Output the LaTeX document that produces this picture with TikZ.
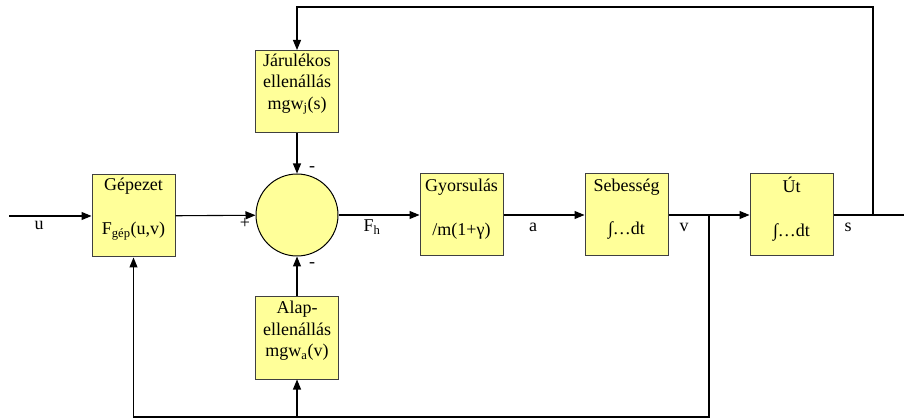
\documentclass[tikz,border=0pt]{standalone}
\usepackage{fontspec}
\setmainfont{Liberation Serif}
\usetikzlibrary{arrows.meta}
\definecolor{blkfill}{RGB}{255,255,153}
\tikzset{
  blk/.style={draw=black!75, fill=blkfill, line width=1pt, minimum width=83pt, minimum height=82pt, inner sep=0pt},
  sumnode/.style={circle, draw, fill=blkfill, line width=1pt, minimum size=82pt, inner sep=0pt},
  txt/.style={inner sep=0pt, align=center, font=\fontsize{18}{21.5}\selectfont},
  arr/.style={-{Triangle[length=10pt,width=8pt]}},
}
\begin{document}
\begin{tikzpicture}[x=1pt,y=-1pt,line width=1.1pt]
\useasboundingbox (0,0) rectangle (904,419);
% blocks
\node[blk] (gep) at (133.5,216) {};
\node[blk] (jar) at (297,91.5) {};
\node[blk] (alap) at (297,338) {};
\node[blk] (gyo) at (461.5,215) {};
\node[blk] (seb) at (626.5,215) {};
\node[blk] (ut) at (791.5,215) {};
\node[sumnode] (sum) at (297,215) {};
% texts
\node[txt] (gept) at (133.5,209) {Gépezet\\[22pt]F\textsubscript{gép}(u,v)};
\node[txt] (jart) at (297,84) {Járulékos\\ellenállás\\mgw\textsubscript{j}(s)};
\node[txt] (alapt) at (297,331) {Alap-\\ellenállás\\mgw\textsubscript{a}(v)};
\node[txt] (gyot) at (461.5,209) {Gyorsulás\\[22pt]/m(1+γ)};
\node[txt] (sebt) at (626.5,209) {Sebesség\\[22pt]∫…dt};
\node[txt] (utt) at (791.5,209) {Út\\[22pt]∫…dt};
\node[txt] (lu) at (39,225) {u};
\node[txt] (lfh) at (372,227) {F\textsubscript{h}};
\node[txt] (la) at (533,227) {a};
\node[txt] (lv) at (684,227) {v};
\node[txt] (ls) at (848,227) {s};
\node[txt] (lplus) at (245,223) {+};
\node[txt] (lmt) at (312,169) {-};
\node[txt] (lmb) at (312,265) {-};
% connectors
\coordinate (in) at (9,216);
\coordinate (out) at (904,215);
\coordinate (bv) at (709,215);
\coordinate (bl) at (709,417);
\coordinate (ba) at (297,417);
\coordinate (bs) at (873,215);
\coordinate (tr) at (873,7);
\draw[arr] (in) -- (gep);
\draw[arr] (gep) -- (sum);
\draw[arr] (sum) -- (gyo);
\draw[arr] (gyo) -- (seb);
\draw[arr] (seb) -- (ut);
\draw (ut) -- (out);
\draw[arr] (bs) -- (tr) -| (jar);
\draw[arr] (jar) -- (sum);
\draw[arr] (alap) -- (sum);
\draw[arr] (bv) -- (bl) -| (gep);
\draw[arr] (ba) -- (alap);
\end{tikzpicture}
\end{document}
